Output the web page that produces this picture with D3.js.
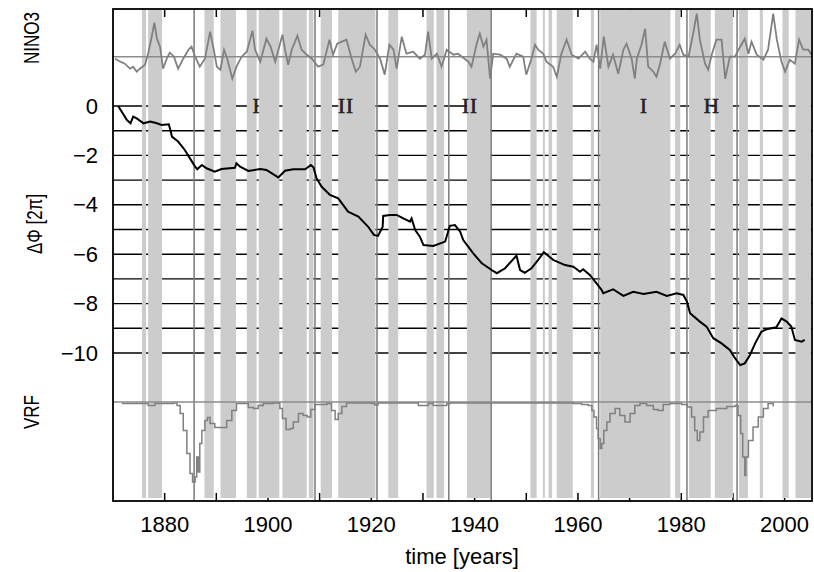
<!DOCTYPE html>
<html>
<head>
<meta charset="utf-8">
<script src="https://cdn.jsdelivr.net/npm/d3@7"></script>
<style>
  body { margin: 0; background: #fff; }
  text { font-family: "Liberation Sans", Arial, sans-serif; }
</style>
</head>
<body>
<div id="chart-area"></div>
<script>
// grey shaded periods [start, end] in years
var bands = [
    [1875.6, 1876.4], [1876.8, 1879.5], [1887.7, 1889.5], [1890.8, 1893.8],
    [1895.9, 1897.8], [1898.2, 1902.2], [1902.8, 1907.5], [1907.9, 1908.8],
    [1910.2, 1912.4], [1913.6, 1920.8], [1923.3, 1925.2], [1930.7, 1932.1],
    [1932.6, 1934.1], [1938.5, 1943.1], [1950.8, 1952.0], [1953.2, 1953.6],
    [1954.3, 1955.0], [1955.9, 1959.0], [1962.5, 1963.1], [1964.3, 1977.9],
    [1978.8, 1979.8], [1981.5, 1985.7], [1986.5, 1990.0], [1991.2, 1992.9],
    [1995.2, 1995.8], [1999.6, 2000.8], [2002.1, 2005.1]
];
// dark vertical markers
var markers = [1885.7, 1909.1, 1921.1, 1935.0, 1943.2, 1964.0, 1981.1, 1990.8];

var regimeYears = [1897.8, 1915.1, 1939.1, 1972.8, 1985.9];
var regimeNames = ["I", "II", "II", "I", "H"];

var phiTicks = [0, -2, -4, -6, -8, -10];
var phiGrid = [0, -1, -2, -3, -4, -5, -6, -7, -8, -9, -10];
var yearTicks = [1880, 1890, 1900, 1910, 1920, 1930, 1940, 1950, 1960, 1970, 1980, 1990, 2000];
var yearLabels = [1880, 1900, 1920, 1940, 1960, 1980, 2000];

// NINO3 index
var ninoYears = [1870.4, 1871.4, 1872.3, 1873.3, 1873.9, 1874.6, 1875.2, 1876.2, 1876.8, 1877.5,
    1878.0, 1878.5, 1879.1, 1879.7, 1880.4, 1881.0, 1881.8, 1882.6, 1883.6, 1884.6,
    1885.2, 1885.9, 1886.8, 1887.8, 1888.8, 1889.4, 1890.1, 1890.8, 1891.5, 1892.1,
    1893.1, 1893.9, 1894.9, 1895.9, 1897.0, 1897.5, 1898.5, 1899.7, 1900.5, 1901.4,
    1902.8, 1903.3, 1903.9, 1904.6, 1905.7, 1906.5, 1907.5, 1908.5, 1909.7, 1910.7,
    1911.9, 1912.6, 1913.4, 1914.3, 1915.2, 1916.2, 1917.0, 1917.8, 1918.9, 1919.7,
    1920.7, 1921.7, 1922.6, 1923.5, 1924.3, 1924.9, 1925.9, 1926.8, 1928.1, 1929.4,
    1930.4, 1931.0, 1931.7, 1932.7, 1933.6, 1934.6, 1935.9, 1936.8, 1938.8, 1939.4,
    1940.4, 1941.0, 1941.7, 1942.3, 1943.0, 1943.6, 1944.9, 1946.2, 1946.8, 1948.1,
    1949.4, 1950.0, 1951.0, 1951.7, 1952.3, 1953.3, 1953.9, 1955.2, 1955.9, 1956.8,
    1957.8, 1958.8, 1960.1, 1961.4, 1962.3, 1963.0, 1963.6, 1964.3, 1965.0, 1965.9,
    1966.8, 1967.8, 1968.8, 1969.4, 1970.4, 1971.0, 1971.4, 1972.3, 1973.0, 1973.6,
    1974.6, 1975.2, 1975.9, 1976.8, 1977.8, 1978.8, 1979.7, 1980.4, 1981.4, 1982.3,
    1983.0, 1983.6, 1984.6, 1985.2, 1985.9, 1986.8, 1987.8, 1988.5, 1989.4, 1990.4,
    1991.4, 1992.3, 1993.0, 1993.6, 1994.6, 1995.9, 1996.8, 1997.8, 1998.5, 1999.4,
    2000.1, 2001.0, 2002.0, 2002.8, 2003.6, 2004.6, 2005.2];
var ninoValues = [-0.2, -0.5, -0.7, -1.2, -1.0, -1.5, -1.2, -0.8, 0.3, 2.0,
    3.4, 1.8, 1.0, -1.2, -0.2, 0.4, 0.0, -1.2, -0.2, 0.7,
    1.0, 0.0, -1.0, -0.2, 2.5, 1.0, -1.0, -1.3, 0.7, -0.2,
    -2.2, -1.0, 0.0, 0.5, 2.6, 0.7, -0.5, 1.8, 1.0, -0.5,
    2.2, 0.7, -0.8, 0.7, 2.1, 0.7, 0.2, -0.2, -1.0, -0.8,
    1.7, 0.2, 1.3, 1.5, 1.7, -0.2, -1.5, -1.0, 2.2, 1.2,
    0.7, -0.2, -1.8, 1.2, 0.7, -1.2, 2.0, 0.3, 0.5, -0.2,
    0.2, 2.5, -0.2, 0.3, -1.0, 0.7, 0.2, 0.3, -0.5, -1.0,
    1.3, 2.3, 1.0, 1.7, -2.2, 0.3, 0.2, -0.2, -1.0, 0.3,
    0.0, -1.8, -0.2, 1.2, 0.7, 0.3, -0.5, -1.0, -2.0, 0.3,
    1.7, 0.2, -0.2, 0.5, -0.2, -0.5, 1.2, -1.2, 2.0, -1.0,
    0.2, -1.7, 0.7, 1.3, -0.2, -2.2, -0.2, 1.2, 2.8, -1.0,
    -1.5, -2.0, -0.7, 1.5, -0.2, 0.3, 1.2, 0.2, 0.0, 2.3,
    4.3, 1.7, -0.7, -1.3, 0.2, 1.7, 1.7, -2.2, 0.0, 0.0,
    1.0, 1.8, 0.3, 1.5, 0.2, -0.3, 0.7, 4.3, 1.7, -0.5,
    -1.5, -0.3, -0.7, 1.7, 0.7, 0.7, 0.2];

// phase difference, units of 2 pi
var phiYears = [1871.0, 1872.7, 1873.4, 1873.9, 1874.6, 1875.9, 1877.2, 1878.5, 1879.4, 1880.8,
    1881.2, 1881.4, 1882.6, 1883.9, 1884.9, 1885.9, 1886.3, 1887.2, 1888.1, 1889.7,
    1891.0, 1893.6, 1893.9, 1894.6, 1896.2, 1898.5, 1899.7, 1902.0, 1903.3, 1904.9,
    1907.2, 1908.3, 1908.8, 1909.4, 1910.4, 1912.0, 1913.6, 1915.5, 1917.5, 1919.4,
    1920.5, 1921.3, 1922.2, 1922.3, 1923.6, 1924.9, 1926.2, 1927.5, 1927.8, 1928.5,
    1929.4, 1930.1, 1932.0, 1934.3, 1935.2, 1936.2, 1937.2, 1937.8, 1939.7, 1941.4,
    1943.3, 1944.3, 1945.9, 1948.1, 1948.8, 1949.7, 1951.0, 1952.3, 1953.4, 1955.2,
    1957.5, 1959.1, 1960.4, 1961.0, 1962.3, 1963.6, 1964.6, 1964.9, 1966.8, 1968.8,
    1970.7, 1972.7, 1975.2, 1977.2, 1979.1, 1980.4, 1981.1, 1981.7, 1983.6, 1984.9,
    1986.2, 1987.8, 1989.4, 1990.4, 1991.4, 1992.3, 1993.3, 1994.3, 1995.5, 1996.5,
    1998.4, 1999.4, 2000.4, 2001.3, 2002.0, 2003.3, 2003.9];
var phiValues = [0.0, -0.57, -0.70, -0.43, -0.50, -0.70, -0.63, -0.70, -0.77, -0.74,
    -1.04, -1.24, -1.44, -1.78, -2.12, -2.46, -2.56, -2.39, -2.52, -2.66,
    -2.55, -2.50, -2.32, -2.46, -2.63, -2.55, -2.59, -2.89, -2.62, -2.56,
    -2.56, -2.39, -2.48, -2.93, -3.27, -3.60, -3.74, -4.28, -4.48, -4.89,
    -5.22, -5.26, -4.89, -4.45, -4.41, -4.41, -4.55, -4.68, -4.55, -5.02,
    -5.29, -5.63, -5.67, -5.49, -4.85, -4.82, -5.09, -5.43, -5.96, -6.37,
    -6.64, -6.77, -6.57, -6.06, -6.64, -6.75, -6.57, -6.23, -5.92, -6.23,
    -6.44, -6.51, -6.71, -6.61, -6.84, -7.18, -7.45, -7.58, -7.42, -7.69,
    -7.52, -7.61, -7.52, -7.69, -7.58, -7.65, -7.92, -8.39, -8.73, -8.93,
    -9.40, -9.61, -9.88, -10.21, -10.49, -10.42, -10.08, -9.61, -9.14, -9.04,
    -8.96, -8.60, -8.73, -8.93, -9.47, -9.54, -9.47];

// volcanic radiative forcing
var vrfYears = [1871.7, 1876.2, 1876.8, 1877.8, 1878.1, 1881.7, 1882.4, 1883.0, 1883.6, 1884.3,
    1884.9, 1885.4, 1885.9, 1886.2, 1886.5, 1886.8, 1887.2, 1887.8, 1888.3, 1888.8,
    1889.7, 1891.0, 1892.0, 1893.0, 1893.9, 1895.5, 1896.2, 1897.2, 1898.1, 1899.1,
    1901.0, 1902.3, 1902.8, 1903.5, 1904.3, 1904.9, 1905.9, 1906.8, 1907.6, 1908.3,
    1909.1, 1911.4, 1912.3, 1913.0, 1913.6, 1914.3, 1915.2, 1920.1, 1920.7, 1921.3,
    1928.5, 1929.1, 1930.1, 1931.0, 1932.0, 1933.9, 1934.6, 1935.2, 1955.9, 1959.1,
    1960.7, 1962.0, 1962.7, 1963.1, 1963.6, 1963.9, 1964.3, 1964.6, 1965.0, 1965.6,
    1966.2, 1967.2, 1968.1, 1969.1, 1970.1, 1971.0, 1972.0, 1973.3, 1974.6, 1975.5,
    1976.5, 1977.8, 1980.1, 1981.2, 1982.0, 1982.6, 1983.1, 1983.6, 1984.3, 1985.2,
    1986.8, 1988.8, 1990.4, 1991.0, 1991.5, 1991.9, 1992.3, 1992.5, 1993.0, 1993.9,
    1994.9, 1995.9, 1996.8, 1997.8];
var vrfValues = [-0.08, -0.08, -0.17, -0.17, -0.08, -0.05, -0.17, -0.58, -1.42, -2.58,
    -3.58, -4.0, -3.75, -2.75, -3.5, -2.08, -1.42, -0.92, -0.78, -1.08,
    -1.28, -1.28, -0.92, -0.42, -0.08, -0.08, -0.28, -0.33, -0.17, -0.08,
    -0.05, -0.33, -0.83, -1.38, -1.33, -1.0, -0.58, -0.67, -0.75, -0.38,
    -0.12, -0.08, -0.42, -0.88, -0.58, -0.22, -0.05, -0.08, -0.15, -0.05,
    -0.05, -0.17, -0.17, -0.08, -0.17, -0.17, -0.08, -0.05, -0.05, -0.08,
    -0.12, -0.17, -0.42, -0.75, -1.33, -1.83, -2.33, -2.08, -1.42, -1.0,
    -0.58, -0.33, -0.67, -1.0, -0.58, -0.17, -0.08, -0.17, -0.38, -0.42,
    -0.12, -0.08, -0.12, -0.25, -0.75, -1.42, -1.92, -1.5, -0.75, -0.42,
    -0.33, -0.22, -0.17, -0.67, -1.58, -2.75, -3.67, -2.75, -1.92, -1.25,
    -0.75, -0.33, -0.08, -0.22];

var svg = d3.select("#chart-area")
    .append("svg")
    .attr("width", 814)
    .attr("height", 572);

// plot box (note: "top" is reserved on window, so use other names)
var pLeft = 113, pRight = 812, pTop = 9, pBottom = 501;

var x = d3.scaleLinear().domain([1870, 2005.5]).range([113, 813]);
var yPhi = d3.scaleLinear().domain([0, -10]).range([106, 353]);
var yNino = d3.scaleLinear().domain([0, 1]).range([56.7, 46.7]);
var yVrf = d3.scaleLinear().domain([0, -1]).range([402, 422]);

// horizontal lines of the phase panel (behind the bands)
svg.selectAll(".grid").data(phiGrid).enter()
    .append("line")
    .attr("class", "grid")
    .attr("x1", pLeft).attr("x2", pRight)
    .attr("y1", d => yPhi(d)).attr("y2", d => yPhi(d))
    .attr("stroke", "#000")
    .attr("stroke-width", 1.4);

// ticks on top and bottom edge
svg.selectAll(".tickb").data(yearTicks).enter()
    .append("line")
    .attr("class", "tickb")
    .attr("x1", d => x(d)).attr("x2", d => x(d))
    .attr("y1", pBottom).attr("y2", pBottom - 8)
    .attr("stroke", "#000").attr("stroke-width", 1.5);
svg.selectAll(".tickt").data(yearTicks).enter()
    .append("line")
    .attr("class", "tickt")
    .attr("x1", d => x(d)).attr("x2", d => x(d))
    .attr("y1", pTop).attr("y2", pTop + 8)
    .attr("stroke", "#000").attr("stroke-width", 1.5);

// grey bands
svg.selectAll(".band").data(bands).enter()
    .append("rect")
    .attr("class", "band")
    .attr("x", d => x(d[0]))
    .attr("width", d => x(d[1]) - x(d[0]))
    .attr("y", pTop + 1)
    .attr("height", 498 - pTop - 1)
    .attr("fill", "#cccccc");

// vertical markers
svg.selectAll(".marker").data(markers).enter()
    .append("line")
    .attr("class", "marker")
    .attr("x1", d => x(d)).attr("x2", d => x(d))
    .attr("y1", pTop).attr("y2", pBottom)
    .attr("stroke", "#7a7a7a")
    .attr("stroke-width", 1.5);

// zero lines of the NINO3 and VRF panels
[yNino(0), yVrf(0)].forEach(function (yy) {
    svg.append("line")
        .attr("x1", pLeft).attr("x2", pRight)
        .attr("y1", yy).attr("y2", yy)
        .attr("stroke", "#8c8c8c")
        .attr("stroke-width", 1.5);
});

// regime labels
svg.selectAll(".regime").data(regimeYears).enter()
    .append("text")
    .attr("class", "regime")
    .attr("x", d => x(d))
    .attr("y", yPhi(0))
    .attr("text-anchor", "middle")
    .attr("dominant-baseline", "central")
    .style("font-family", "'Liberation Serif', 'Times New Roman', serif")
    .style("font-size", "21px")
    .style("letter-spacing", "1px")
    .attr("fill", "#222")
    .attr("stroke", "#222")
    .attr("stroke-width", 0.6)
    .text((d, i) => regimeNames[i]);

// curves
var nino = ninoYears.map((d, i) => [d, ninoValues[i]]);
var phi = phiYears.map((d, i) => [d, phiValues[i]]);
var vrf = vrfYears.map((d, i) => [d, vrfValues[i]]);

svg.append("path")
    .datum(nino)
    .attr("fill", "none")
    .attr("stroke", "#808080")
    .attr("stroke-width", 1.8)
    .attr("d", d3.line().x(d => x(d[0])).y(d => yNino(d[1])));

svg.append("path")
    .datum(vrf)
    .attr("fill", "none")
    .attr("stroke", "#808080")
    .attr("stroke-width", 1.5)
    .attr("d", d3.line().curve(d3.curveStepAfter).x(d => x(d[0])).y(d => yVrf(d[1])));

svg.append("path")
    .datum(phi)
    .attr("fill", "none")
    .attr("stroke", "#000")
    .attr("stroke-width", 2)
    .attr("d", d3.line().x(d => x(d[0])).y(d => yPhi(d[1])));

// frame
svg.append("rect")
    .attr("x", pLeft).attr("y", pTop)
    .attr("width", pRight - pLeft).attr("height", pBottom - pTop)
    .attr("fill", "none")
    .attr("stroke", "#000")
    .attr("stroke-width", 1.8);

// tick labels
svg.selectAll(".ylab").data(phiTicks).enter()
    .append("text")
    .attr("class", "ylab")
    .attr("x", 98)
    .attr("y", d => yPhi(d))
    .attr("text-anchor", "end")
    .attr("dominant-baseline", "central")
    .style("font-size", "22px")
    .text(d => d < 0 ? "\u2212" + Math.abs(d) : d);

svg.selectAll(".xlab").data(yearLabels).enter()
    .append("text")
    .attr("class", "xlab")
    .attr("x", d => x(d))
    .attr("y", 532)
    .attr("text-anchor", "middle")
    .style("font-size", "22px")
    .text(d => d);

svg.append("text")
    .attr("x", 462)
    .attr("y", 564)
    .attr("text-anchor", "middle")
    .style("font-size", "22px")
    .text("time [years]");

// side labels
function sideLabel(txt, cx, cy, size) {
    svg.append("text")
        .attr("transform", "translate(" + cx + "," + cy + ") rotate(-90) scale(1,1.3)")
        .attr("text-anchor", "middle")
        .attr("dominant-baseline", "central")
        .style("font-size", size + "px")
        .text(txt);
}
sideLabel("NINO3", 31, 38, 17);
sideLabel("\u0394\u03A6 [2\u03C0]", 34, 224, 17);
sideLabel("VRF", 31, 412, 17);
</script>
</body>
</html>
